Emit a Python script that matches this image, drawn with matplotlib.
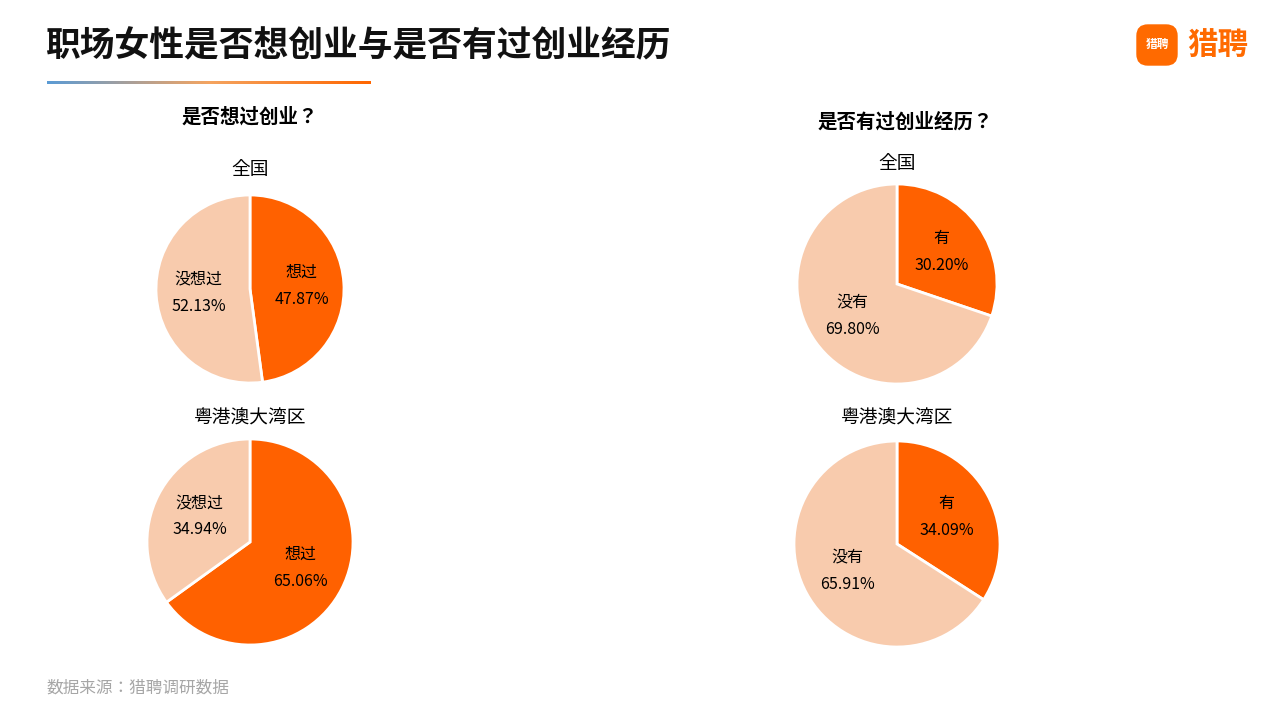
import matplotlib
matplotlib.use("Agg")
import matplotlib.pyplot as plt
from matplotlib.patches import FancyBboxPatch
from matplotlib.colors import LinearSegmentedColormap
import numpy as np

plt.rcParams['font.family'] = ['Noto Sans CJK SC', 'Noto Sans CJK JP', 'Noto Sans CJK TC', 'DejaVu Sans']

want_labels = ['想过', '没想过']
want_national = [47.87, 52.13]
want_gba = [65.06, 34.94]
exp_labels = ['有', '没有']
exp_national = [30.20, 69.80]
exp_gba = [34.09, 65.91]

DARK = '#FF6100'
LIGHT = '#F8CBAD'
W, H = 1280, 720
fig = plt.figure(figsize=(12.8, 7.2), dpi=100)

def px_ax(cx, cy, r):
    return fig.add_axes([(cx - r) / W, 1 - (cy + r) / H, 2 * r / W, 2 * r / H])

def draw(cx, cy, r, vals, labels, title, ty):
    ax = px_ax(cx, cy, r)
    texts = [f'{l}\n{v:.2f}%' for l, v in zip(labels, vals)]
    ax.pie(vals, colors=[DARK, LIGHT], startangle=90, counterclock=False,
           labels=texts, labeldistance=0.55,
           wedgeprops=dict(edgecolor='white', linewidth=2),
           textprops=dict(fontsize=11.5, ha='center', va='center', linespacing=1.8))
    ax.set_xlim(-1, 1); ax.set_ylim(-1, 1); ax.set_aspect('equal')
    fig.text(cx / W, 1 - ty / H, title, ha='center', va='center', fontsize=13.5)

draw(250, 289, 94, want_national, want_labels, '全国', 169)
draw(250, 542, 103, want_gba, want_labels, '粤港澳大湾区', 418)
draw(897, 284, 100, exp_national, exp_labels, '全国', 164)
draw(897, 544, 103, exp_gba, exp_labels, '粤港澳大湾区', 418)

fig.text(250 / W, 1 - 117 / H, '是否想过创业？', ha='center', va='center', fontsize=14, fontweight='bold')
fig.text(905 / W, 1 - 122 / H, '是否有过创业经历？', ha='center', va='center', fontsize=14, fontweight='bold')

fig.text(45 / W, 1 - 46 / H, '职场女性是否想创业与是否有过创业经历', ha='left', va='center',
         fontsize=25, fontweight='bold', color='#111111')

lax = fig.add_axes([47 / W, 1 - 84 / H, 324 / W, 3 / H])
grad = np.linspace(0, 1, 256).reshape(1, -1)
cm = LinearSegmentedColormap.from_list('g', ['#5B9BD5', '#F4A460', '#FF6600'])
lax.imshow(grad, aspect='auto', cmap=cm); lax.axis('off')

gax = fig.add_axes([1134 / W, 1 - 68 / H, 46 / W, 46 / H])
gax.set_xlim(0, 1); gax.set_ylim(0, 1); gax.axis('off')
gax.add_patch(FancyBboxPatch((0.05, 0.05), 0.9, 0.9, boxstyle='round,pad=0,rounding_size=0.25',
                             fc='#FF6A00', ec='none'))
gax.text(0.5, 0.52, '猎聘', ha='center', va='center', color='white', fontsize=8.5, fontweight='bold')
fig.text(1187 / W, 1 - 45 / H, '猎聘', ha='left', va='center', fontsize=22, fontweight='bold', color='#FF6A00')

fig.text(46 / W, 1 - 688 / H, '数据来源：猎聘调研数据', ha='left', va='center', fontsize=12, color='#A6A6A6')

fig.savefig('out.png', dpi=100, facecolor='white')
